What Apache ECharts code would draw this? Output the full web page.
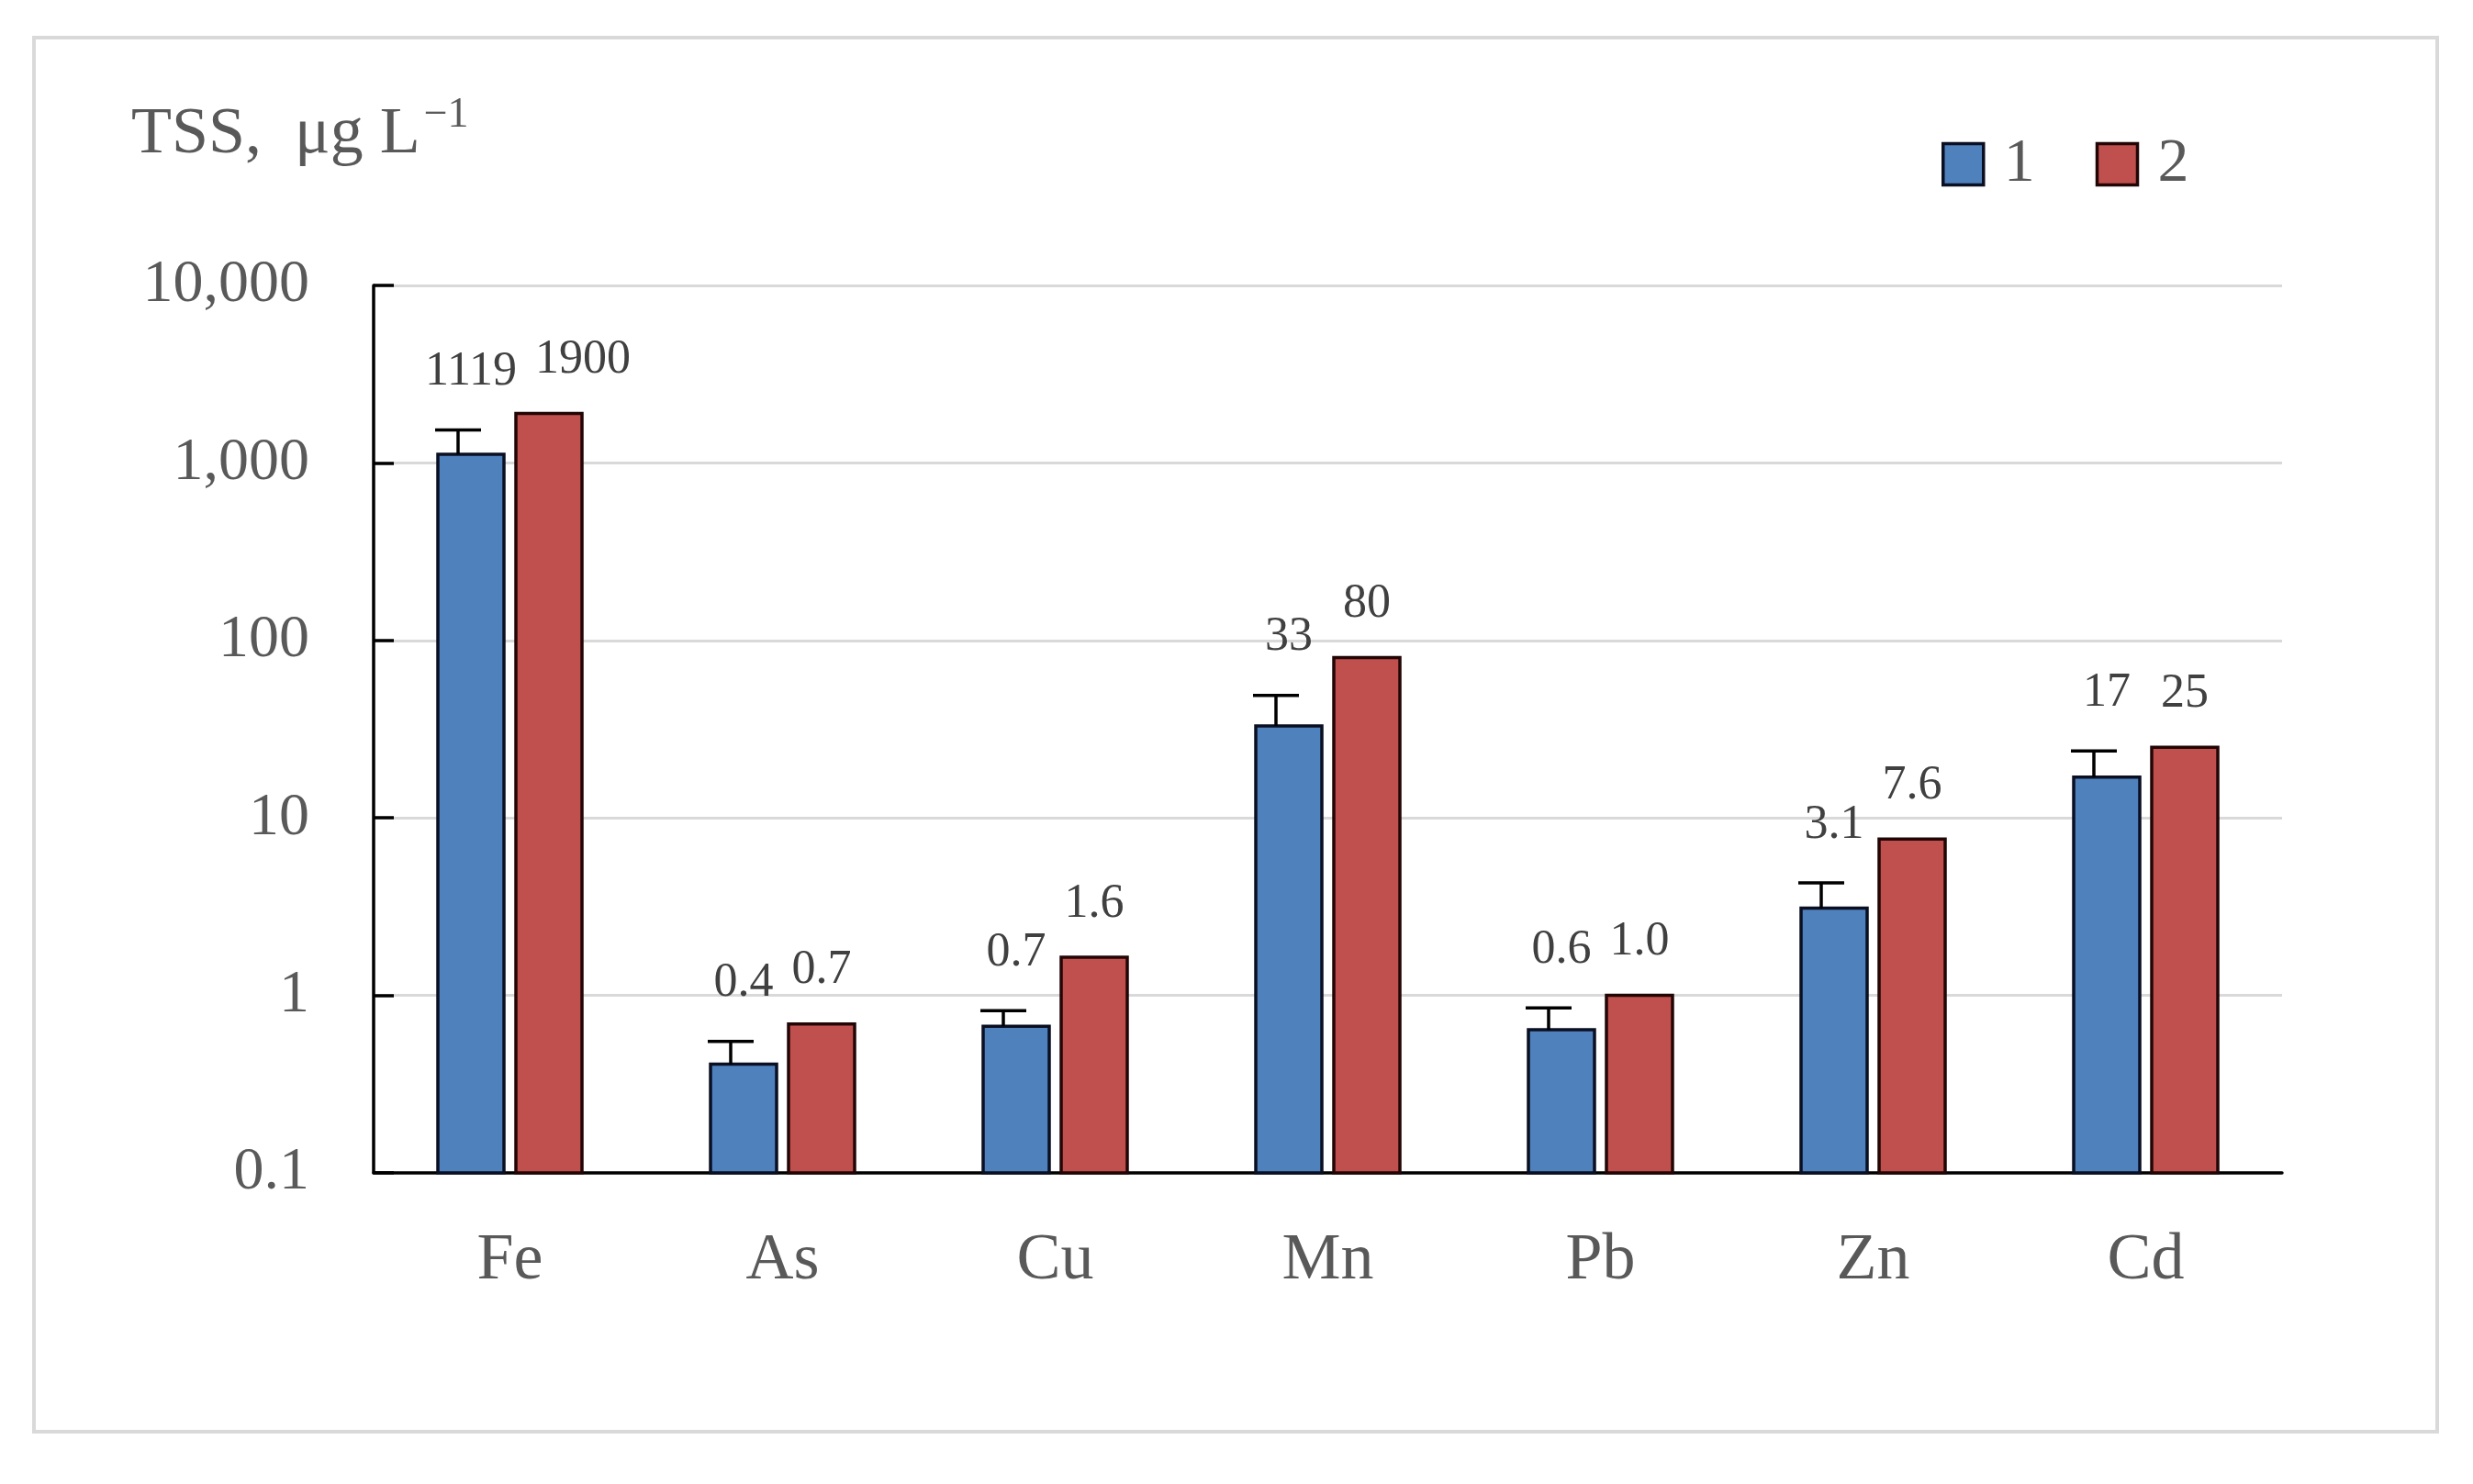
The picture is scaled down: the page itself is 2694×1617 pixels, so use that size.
<!DOCTYPE html>
<html>
<head>
<meta charset="utf-8">
<script src="https://cdn.jsdelivr.net/npm/echarts@6/dist/echarts.min.js"></script>
<style>
html,body{margin:0;padding:0;background:#fff;}
#chart{width:2694px;height:1617px;}
</style>
</head>
<body>
<div id="chart"></div>
<script>
var categories = ['Fe', 'As', 'Cu', 'Mn', 'Pb', 'Zn', 'Cd'];
var series1 = [1119, 0.41, 0.67, 33, 0.64, 3.1, 17];
var series2 = [1900, 0.69, 1.64, 80, 1.0, 7.6, 25];
var series1ErrTop = [1535, 0.55, 0.82, 49, 0.85, 4.3, 23.8];
var yTicks = [0.1, 1, 10, 100, 1000, 10000];
var seriesNames = ['1', '2'];

var FONT = '"Liberation Serif", "DejaVu Serif", serif';
var BAR_W = 72, BAR_GAP = 13;
var LABEL_SIZE = 52;
var Y_MIN = yTicks[0], Y_MAX = yTicks[yTicks.length - 1];
var COLORS = ['#4f81bd', '#c0504d'];
var BORDERS = ['#0a0f22', '#220606'];

function fmtVal(v) {
  return v >= 10 ? String(Math.round(v)) : v.toFixed(1);
}
function fmtTick(v) {
  v = Number(Number(v).toPrecision(6));
  return v >= 1000 ? v.toLocaleString('en-US') : String(v);
}
var measureCtx = document.createElement('canvas').getContext('2d');
function textW(t) {
  measureCtx.font = LABEL_SIZE + 'px ' + FONT;
  return measureCtx.measureText(t).width;
}

// side: 0 = series 1 (left bar), 1 = series 2 (right bar)
function makeBarRender(side) {
  return function (params, api) {
    var i = api.value(0);
    var v = api.value(1);
    var top = api.coord([i, v]);
    var bottom = api.coord([i, Y_MIN]);
    var cx = top[0] + (side === 0 ? -1 : 1) * (BAR_W + BAR_GAP) / 2;
    var children = [{
      type: 'rect',
      shape: {x: cx - BAR_W / 2, y: top[1], width: BAR_W, height: bottom[1] - top[1]},
      style: {fill: COLORS[side], stroke: BORDERS[side], lineWidth: 3.5}
    }];
    var ls = {stroke: '#000', lineWidth: 3.5};
    if (side === 0) {
      var e = api.coord([i, api.value(2)]);
      var sx = cx - 14, half = 25;
      children.push(
        {type: 'line', shape: {x1: sx, y1: top[1], x2: sx, y2: e[1]}, style: ls},
        {type: 'line', shape: {x1: sx - half, y1: e[1], x2: sx + half, y2: e[1]}, style: ls},
        {type: 'text', x: cx, y: e[1] - 63,
          style: {text: fmtVal(v), fontFamily: FONT, fontSize: LABEL_SIZE, fill: '#404040',
                  align: 'center', verticalAlign: 'middle'}}
      );
    } else {
      var lx = cx;
      var ly = top[1] - 58;
      // avoid overlapping the neighbouring series-1 label
      var v1 = series1[i];
      var e1 = api.coord([i, series1ErrTop[i]]);
      var ly1 = e1[1] - 63;
      var c1 = cx - (BAR_W + BAR_GAP);
      var t2 = fmtVal(v), t1 = fmtVal(v1);
      if (Math.abs(ly1 - ly) < LABEL_SIZE) {
        var minX = c1 + textW(t1) / 2 + 20 + textW(t2) / 2;
        if (lx < minX) lx = minX;
      }
      children.push({type: 'text', x: lx, y: ly,
        style: {text: t2, fontFamily: FONT, fontSize: LABEL_SIZE, fill: '#404040',
                align: 'center', verticalAlign: 'middle'}});
    }
    return {type: 'group', children: children};
  };
}

var data1 = categories.map(function (c, i) { return [i, series1[i], series1ErrTop[i]]; });
var data2 = categories.map(function (c, i) { return [i, series2[i]]; });

var chart = echarts.init(document.getElementById('chart'), null, {renderer: 'canvas'});
chart.setOption({
  backgroundColor: '#fff',
  animation: false,
  graphic: [{
    type: 'rect',
    shape: {x: 37, y: 41, width: 2618, height: 1519},
    style: {fill: 'none', stroke: '#d9d9d9', lineWidth: 4},
    silent: true, z: -10
  }],
  title: {
    left: 138, top: 98,
    text: '{a|TSS,  μg L}{b|−1}',
    textStyle: {
      fontWeight: 'normal',
      rich: {
        a: {fontFamily: FONT, fontSize: 72, fontWeight: 'normal', color: '#595959', lineHeight: 80, verticalAlign: 'bottom'},
        b: {fontFamily: FONT, fontSize: 46, fontWeight: 'normal', color: '#595959', lineHeight: 80, verticalAlign: 'top', padding: [0, 0, 0, 4]}
      }
    }
  },
  legend: {
    data: seriesNames.map(function (n, k) {
      return {name: n, itemStyle: {color: COLORS[k], borderColor: BORDERS[k], borderWidth: 3.5}};
    }),
    left: 2110, top: 140,
    itemWidth: 44, itemHeight: 45, itemGap: 66,
    icon: 'rect',
    formatter: function (n) { return ' ' + n; },
    textStyle: {fontFamily: FONT, fontSize: 68, color: '#595959'}
  },
  grid: {left: 407, right: 208, top: 311, bottom: 339, containLabel: false},
  xAxis: {
    type: 'category',
    data: categories,
    axisTick: {show: false},
    axisLine: {lineStyle: {color: '#000', width: 3.5}},
    axisLabel: {fontFamily: FONT, fontSize: 72, color: '#595959', margin: 60}
  },
  yAxis: {
    type: 'log', logBase: 10, min: Y_MIN, max: Y_MAX,
    axisLine: {show: true, lineStyle: {color: '#000', width: 3.5}},
    axisTick: {show: true, inside: true, length: 22, lineStyle: {color: '#000', width: 3.5}},
    splitLine: {show: true, lineStyle: {color: '#d9d9d9', width: 3}},
    axisLabel: {fontFamily: FONT, fontSize: 66, color: '#595959', margin: 70, formatter: fmtTick}
  },
  series: [
    {
      name: seriesNames[0], type: 'custom', data: data1, z: 3,
      itemStyle: {color: COLORS[0], borderColor: BORDERS[0], borderWidth: 3.5},
      encode: {x: 0, y: 1},
      renderItem: makeBarRender(0)
    },
    {
      name: seriesNames[1], type: 'custom', data: data2, z: 3,
      itemStyle: {color: COLORS[1], borderColor: BORDERS[1], borderWidth: 3.5},
      encode: {x: 0, y: 1},
      renderItem: makeBarRender(1)
    }
  ]
});
</script>
</body>
</html>
